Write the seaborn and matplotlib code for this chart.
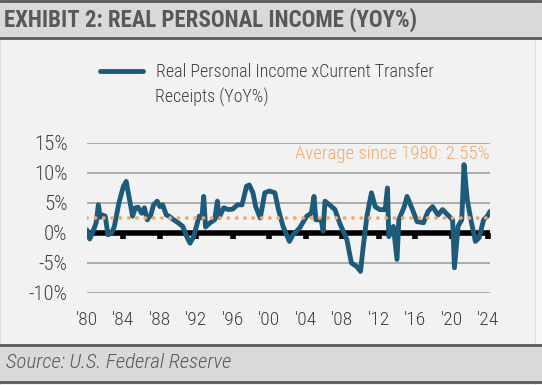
import numpy as np
import pandas as pd
import matplotlib.pyplot as plt
import seaborn as sns
from matplotlib.patches import Rectangle
from matplotlib.lines import Line2D

years = [1980.0, 1980.3, 1980.6, 1981.0, 1981.25, 1981.45, 1981.7, 1982.0, 1982.3, 1982.7,
         1983.0, 1983.5, 1984.0, 1984.3, 1984.6, 1985.0, 1985.3, 1985.6, 1986.0, 1986.3,
         1986.6, 1987.0, 1987.3, 1987.7, 1988.0, 1988.3, 1988.7, 1989.0, 1989.5, 1990.0,
         1990.5, 1991.0, 1991.3, 1991.7, 1992.0, 1992.3, 1992.6, 1992.8, 1993.0, 1993.5,
         1994.0, 1994.3, 1994.5, 1995.0, 1995.5, 1996.0, 1996.5, 1997.0, 1997.5, 1997.8,
         1998.2, 1998.5, 1999.0, 1999.5, 2000.0, 2000.6, 2001.0, 2001.5, 2002.2, 2002.6,
         2003.3, 2004.1, 2004.6, 2004.9, 2005.1, 2005.7, 2005.9, 2006.1, 2006.6, 2007.2,
         2007.7, 2008.5, 2009.0, 2009.6, 2010.0, 2010.3, 2010.7, 2011.2, 2011.6, 2012.1,
         2012.7, 2012.95, 2013.1, 2013.6, 2014.0, 2014.2, 2014.8, 2015.1, 2015.7, 2016.2,
         2016.9, 2017.4, 2017.9, 2018.5, 2019.0, 2019.7, 2020.1, 2020.3, 2020.7, 2021.1,
         2021.35, 2021.7, 2022.1, 2022.6, 2023.0, 2023.5, 2023.9, 2024.2]
yoy = [0.5, -1.0, 0.0, 1.7, 4.7, 2.6, 3.0, 2.8, -0.3, 0.0,
       1.1, 5.0, 7.8, 8.6, 6.1, 2.8, 4.2, 4.3, 3.3, 4.2,
       2.2, 3.0, 4.7, 5.3, 4.4, 4.7, 3.0, 2.8, 2.2, 1.7,
       1.1, -0.8, -1.7, -0.6, 1.1, 2.8, 2.6, 6.1, 1.0, 1.7,
       2.2, 5.3, 2.6, 4.2, 3.9, 4.0, 4.7, 4.7, 7.8, 8.0,
       6.7, 4.4, 2.5, 6.7, 7.0, 6.7, 3.9, 1.1, -1.4, -0.3,
       0.8, 2.8, 3.3, 6.1, 2.2, 2.2, 0.3, 5.3, 4.7, 3.9,
       1.7, -1.1, -5.0, -5.6, -6.4, -2.2, 2.8, 6.7, 4.4, 3.9,
       3.9, 7.5, -0.6, 1.1, -4.4, 2.2, 4.4, 6.1, 3.9, 1.9,
       1.7, 3.6, 4.4, 3.0, 3.9, 2.8, 2.2, -5.8, 1.1, 2.2,
       11.4, 5.6, 2.2, -1.4, -0.8, 2.2, 2.8, 3.6]
average = 2.55
x_ticks = list(range(1980, 2025, 4))
x_labels = ["'" + str(y)[2:] for y in x_ticks]
y_ticks = [-10, -5, 0, 5, 10, 15]
y_labels = [f"{v}%" for v in y_ticks]

df = pd.DataFrame({"year": years, "yoy": yoy})

sns.set_style("white")
plt.rcParams['font.family'] = ['Roboto Condensed', 'DejaVu Sans']
plt.rcParams['font.stretch'] = 'condensed'
plt.rcParams['font.weight'] = 'light'

fig = plt.figure(figsize=(5.42, 3.85), dpi=100)
fig.patch.set_facecolor('#f7f7f7')
# panel + bands
fig.patches.append(Rectangle((0, 0), 535 / 542, 1, transform=fig.transFigure,
                             facecolor='#f2f2f2', edgecolor='#e0e0e0', lw=0.8, zorder=-10))
fig.patches.append(Rectangle((0, 1 - 38 / 385), 1, 37 / 385, transform=fig.transFigure,
                             facecolor='#d9d9d9', edgecolor='none', zorder=-9))
fig.patches.append(Rectangle((0, 3 / 385), 1, 37 / 385, transform=fig.transFigure,
                             facecolor='#d9d9d9', edgecolor='none', zorder=-9))
for yy in [1 - 1 / 385, 1 - 38 / 385, 40 / 385, 3 / 385]:
    fig.add_artist(Line2D([0, 1], [yy, yy], transform=fig.transFigure,
                          color='#595959', lw=2))

fig.text(4 / 542, 1 - 20 / 385, "EXHIBIT 2: REAL PERSONAL INCOME (YOY%)",
         fontsize=16.5, fontweight='bold', color='#595959', va='center', ha='left')
fig.text(6 / 542, 22 / 385, "Source: U.S. Federal Reserve", fontsize=15,
         style='italic', color='#595959', va='center', ha='left')

ax = fig.add_axes([87 / 542, 92 / 385, 403 / 542, 150 / 385])
ax.set_facecolor('none')
ax.set_zorder(5)

sns.lineplot(data=df, x="year", y="yoy", ax=ax, color='#1d5b7c', lw=3.5,
             label="Real Personal Income xCurrent Transfer", legend=False, zorder=3)
ax.axhline(0, color='black', lw=4, zorder=2)
ax.axhline(average, color='#f0a868', lw=2.6, ls=(0, (0.1, 2.2)),
           dash_capstyle='round', zorder=4)
ax.text(2024.2, 13.2, f"Average since 1980: {average}%", color='#f0a868',
        fontsize=13.5, ha='right', va='center')

ax.set_xlim(1980, 2024.2)
ax.set_ylim(-10, 15)
ax.set_yticks(y_ticks, y_labels)
ax.set_xticks(x_ticks, x_labels)
ax.grid(axis='y', color='#a0a0a0', lw=1.2)
ax.set_axisbelow(True)
for s in ax.spines.values():
    s.set_visible(False)
ax.tick_params(axis='both', length=0, labelsize=14, colors='#404040')
ax.tick_params(axis='y', labelsize=15, pad=14)
ax.tick_params(axis='x', pad=13)
ax.set_xlabel("")
ax.set_ylabel("")

# small ticks under the zero line
sec = ax.secondary_xaxis(10 / 25)
sec.set_xticks(x_ticks[1:], [""] * (len(x_ticks) - 1))
sec.spines['bottom'].set_visible(False)
sec.tick_params(axis='x', direction='out', length=4.5, width=4, color='black')

h = ax.lines[0]
fig.legend(handles=[h], loc='center left', bbox_to_anchor=(100 / 542, 1 - 72 / 385),
           frameon=False, fontsize=13, handlelength=2.4, handletextpad=0.7,
           borderaxespad=0, borderpad=0, labelcolor='#404040')
fig.text(155 / 542, 1 - 97 / 385, "Receipts (YoY%)", fontsize=13, color='#404040',
         va='center', ha='left')

fig.savefig("out.png", dpi=100, facecolor=fig.get_facecolor())
